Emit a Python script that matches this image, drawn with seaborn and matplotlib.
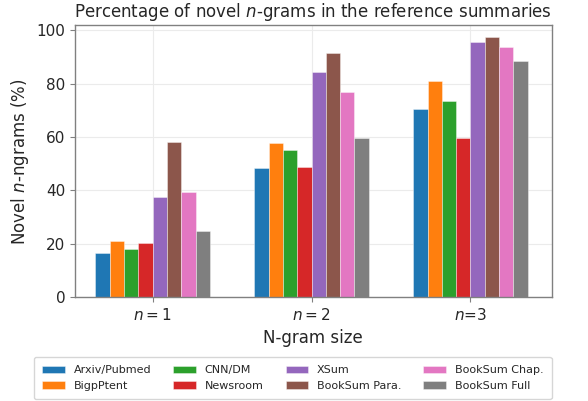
import matplotlib
matplotlib.use("Agg")
import matplotlib.pyplot as plt
import seaborn as sns
import pandas as pd

# novel n-gram percentages
datasets = ["Arxiv/Pubmed", "BigpPtent", "CNN/DM", "Newsroom",
            "XSum", "BookSum Para.", "BookSum Chap.", "BookSum Full"]
ngram_labels = ["$n=1$", "$n=2$", "$n$=3"]
unigram = [16.7, 21.2, 18.1, 20.3, 37.5, 58.2, 39.3, 24.8]
bigram = [48.3, 57.8, 55.1, 48.8, 84.4, 91.6, 76.8, 59.7]
trigram = [70.4, 80.8, 73.6, 59.7, 95.6, 97.5, 93.8, 88.5]

rows = []
for label, vals in zip(ngram_labels, [unigram, bigram, trigram]):
    for name, v in zip(datasets, vals):
        rows.append({"ngram": label, "dataset": name, "pct": v})
df = pd.DataFrame(rows)

sns.set_style("whitegrid")
plt.rcParams["font.family"] = ["DejaVu Sans"]
plt.rcParams["text.color"] = "#262626"
plt.rcParams["axes.labelcolor"] = "#262626"
plt.rcParams["xtick.color"] = "#262626"
plt.rcParams["ytick.color"] = "#262626"

fig, ax = plt.subplots(figsize=(5.88, 4.01), dpi=100)
fig.subplots_adjust(left=0.1276, right=0.938, top=0.9377, bottom=0.2586)

sns.barplot(df, x="ngram", y="pct", hue="dataset", palette="tab10",
            width=0.72, gap=0, saturation=1, ax=ax, legend=True,
            edgecolor=(1, 1, 1, 0.45), linewidth=0.6)

ax.set_xlim(-0.488, 2.51)
ax.set_ylim(0, 101.9)
ax.set_yticks([0, 20, 40, 60, 80, 100])
ax.grid(True, color="#ebebeb", linewidth=0.8)
ax.set_axisbelow(True)
for s in ax.spines.values():
    s.set_color("#808080")
    s.set_linewidth(1.0)
ax.tick_params(axis="both", labelsize=11, length=3.5, width=0.8,
               color="#808080", left=True, bottom=True)
ax.set_title("Percentage of novel $n$-grams in the reference summaries", fontsize=12)
ax.set_xlabel("N-gram size", fontsize=12)
ax.set_ylabel("Novel $n$-ngrams (%)", fontsize=12)

handles, labels = ax.get_legend_handles_labels()
ax.get_legend().remove()
fig.legend(handles, labels, loc="lower center", ncol=4, fontsize=8,
           bbox_to_anchor=(0.498, 0.0), borderaxespad=0.15, borderpad=0.75,
           frameon=True)

plt.savefig("out.png", dpi=100)
plt.close()
